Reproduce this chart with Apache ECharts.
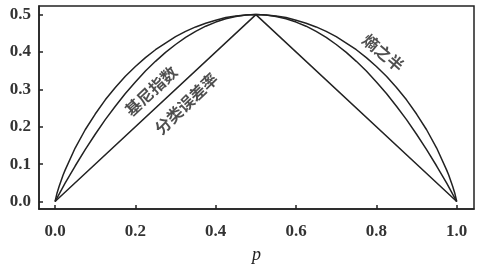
<!DOCTYPE html>
<html><head><meta charset="utf-8">
<script src="https://cdn.jsdelivr.net/npm/echarts@6/dist/echarts.min.js"></script>
<style>html,body{margin:0;padding:0;background:#fff}#c{width:504px;height:269px}</style>
</head><body><div id="c"></div>
<script>
var xTicks = [0, 0.2, 0.4, 0.6, 0.8, 1.0];
var yTicks = [0, 0.1, 0.2, 0.3, 0.4, 0.5];
var pEnt = [0, 0.005, 0.01, 0.02, 0.025, 0.05, 0.075, 0.1, 0.125, 0.15, 0.175, 0.2, 0.225, 0.25, 0.275, 0.3, 0.325, 0.35, 0.375, 0.4, 0.425, 0.45, 0.475, 0.5,
            0.525, 0.55, 0.575, 0.6, 0.625, 0.65, 0.675, 0.7, 0.725, 0.75, 0.775, 0.8, 0.825, 0.85, 0.875, 0.9, 0.925, 0.95, 0.975, 0.98, 0.99, 0.995, 1];
var entHalf = [0, 0.023, 0.040, 0.071, 0.084, 0.143, 0.192, 0.234, 0.272, 0.305, 0.335, 0.361, 0.385, 0.406, 0.424, 0.441, 0.455, 0.467, 0.477, 0.485, 0.492, 0.496, 0.499, 0.5,
               0.499, 0.496, 0.492, 0.485, 0.477, 0.467, 0.455, 0.441, 0.424, 0.406, 0.385, 0.361, 0.335, 0.305, 0.272, 0.234, 0.192, 0.143, 0.084, 0.071, 0.040, 0.023, 0];
var pGini = [0, 0.025, 0.05, 0.075, 0.1, 0.125, 0.15, 0.175, 0.2, 0.225, 0.25, 0.275, 0.3, 0.325, 0.35, 0.375, 0.4, 0.425, 0.45, 0.475, 0.5,
             0.525, 0.55, 0.575, 0.6, 0.625, 0.65, 0.675, 0.7, 0.725, 0.75, 0.775, 0.8, 0.825, 0.85, 0.875, 0.9, 0.925, 0.95, 0.975, 1];
var gini = [0, 0.049, 0.095, 0.139, 0.18, 0.219, 0.255, 0.289, 0.32, 0.349, 0.375, 0.399, 0.42, 0.439, 0.455, 0.469, 0.48, 0.489, 0.495, 0.499, 0.5,
            0.499, 0.495, 0.489, 0.48, 0.469, 0.455, 0.439, 0.42, 0.399, 0.375, 0.349, 0.32, 0.289, 0.255, 0.219, 0.18, 0.139, 0.095, 0.049, 0];
var pErr = [0, 0.5, 1];
var err = [0, 0.5, 0];
var labelNames = ['基尼指数', '分类误差率', '熵之半'];
var labelPos = [[0.239, 0.296], [0.326, 0.262], [0.817, 0.398]];
var labelRot = [43, 44, -40];

function zip(a, b) { return a.map(function (v, i) { return [v, b[i]]; }); }
var lineStyle = { color: '#222', width: 1.5 };
var serif = '"Liberation Serif", "DejaVu Serif", serif';

var chart = echarts.init(document.getElementById('c'));
chart.setOption({
  animation: false,
  grid: { left: 39, right: 30, top: 6, bottom: 50, show: true, borderColor: '#222', borderWidth: 1.5, backgroundColor: 'transparent' },
  xAxis: {
    type: 'value', min: -0.04, max: 1.043,
    name: 'p', nameLocation: 'middle', nameGap: 37,
    nameTextStyle: { fontFamily: serif, fontStyle: 'italic', fontSize: 18, color: '#222' },
    axisLine: { show: true, onZero: false, lineStyle: { color: '#222', width: 1.5 } },
    axisTick: { show: true, inside: true, length: 4, customValues: xTicks, lineStyle: { color: '#222', width: 1.5 } },
    axisLabel: { customValues: xTicks, margin: 14, fontFamily: serif, fontSize: 17, fontWeight: 'bold', color: '#333', formatter: function (v) { return v.toFixed(1); } },
    splitLine: { show: false }
  },
  yAxis: {
    type: 'value', min: -0.02, max: 0.523,
    axisLine: { show: true, onZero: false, lineStyle: { color: '#222', width: 1.5 } },
    axisTick: { show: true, inside: true, length: 4, customValues: yTicks, lineStyle: { color: '#222', width: 1.5 } },
    axisLabel: { customValues: yTicks, margin: 8, fontFamily: serif, fontSize: 17, fontWeight: 'bold', color: '#333', formatter: function (v) { return v.toFixed(1); } },
    splitLine: { show: false }
  },
  series: [
    { type: 'line', data: zip(pEnt, entHalf), showSymbol: false, lineStyle: lineStyle },
    { type: 'line', data: zip(pGini, gini), showSymbol: false, lineStyle: lineStyle },
    { type: 'line', data: zip(pErr, err), showSymbol: false, lineStyle: lineStyle },
    {
      type: 'scatter', symbolSize: 0,
      data: labelNames.map(function (n, i) {
        return { value: labelPos[i], name: n, label: { show: true, rotate: labelRot[i], formatter: n, position: 'inside',
          fontFamily: '"Noto Sans CJK SC", sans-serif', fontSize: 16, fontWeight: 'bold', color: '#222' } };
      })
    }
  ]
});
</script></body></html>
